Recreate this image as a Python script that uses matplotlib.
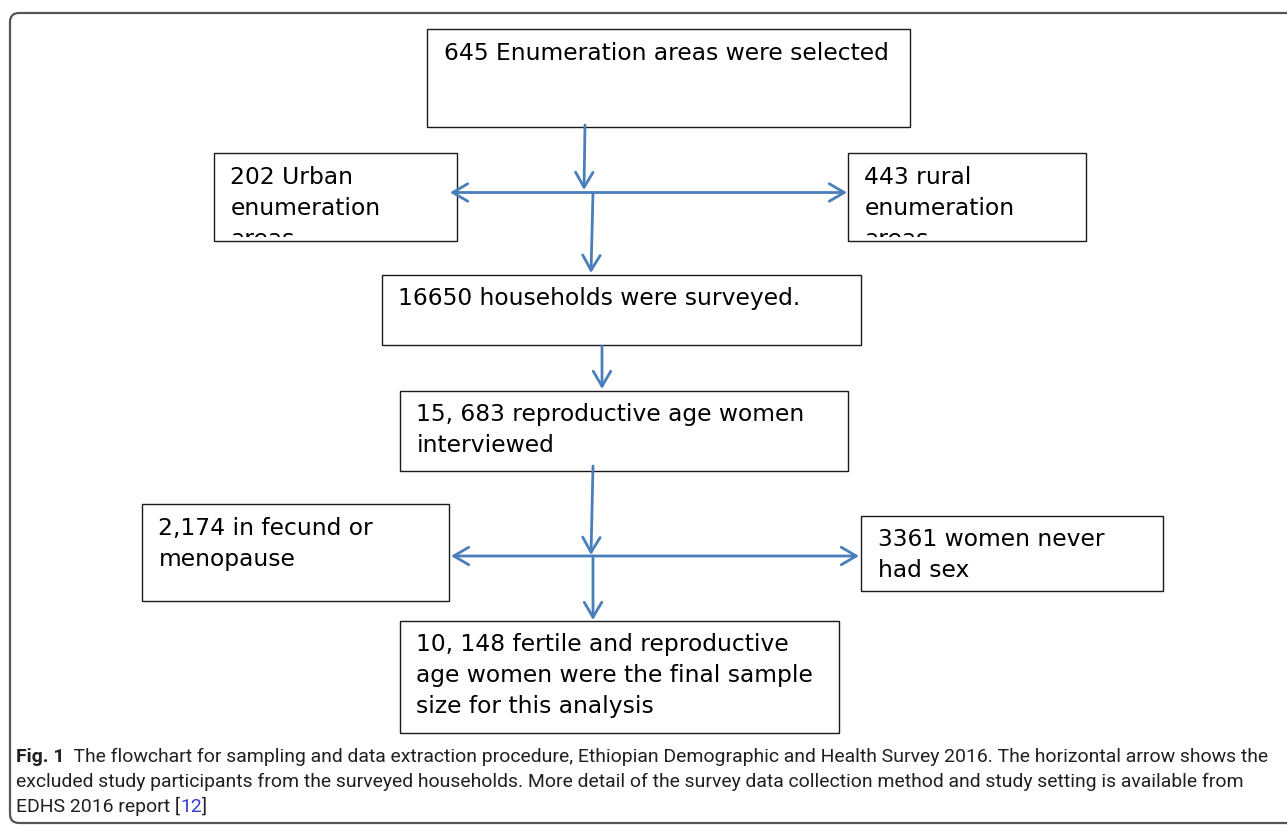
import matplotlib
matplotlib.use("Agg")
import matplotlib.pyplot as plt
from matplotlib.patches import Rectangle, FancyBboxPatch
from matplotlib.transforms import Bbox
from matplotlib import font_manager

# box texts (one string per line)
top_lines = ["645 Enumeration areas were selected"]
urban_lines = ["202 Urban", "enumeration", "areas"]
rural_lines = ["443 rural", "enumeration", "areas"]
household_lines = ["16650 households were surveyed."]
women_lines = ["15, 683 reproductive age women", "interviewed"]
infecund_lines = ["2,174 in fecund or", "menopause"]
nosex_lines = ["3361 women never", "had sex"]
final_lines = ["10, 148 fertile and reproductive",
               "age women were the final sample",
               "size for this analysis"]

caption_label = "Fig. 1"
caption_line1 = "  The flowchart for sampling and data extraction procedure, Ethiopian Demographic and Health Survey 2016. The horizontal arrow shows the"
caption_line2 = "excluded study participants from the surveyed households. More detail of the survey data collection method and study setting is available from"
caption_line3 = ["EDHS 2016 report [", "12", "]"]

W, H = 1287, 825
BLUE = "#4a7ebb"

fig = plt.figure(figsize=(W / 100, H / 100), dpi=100)
ax = fig.add_axes([0, 0, 1, 1])
ax.set_xlim(0, W)
ax.set_ylim(H, 0)
ax.axis("off")

# outer rounded frame
ax.add_patch(FancyBboxPatch((10, 13), 1300, 810,
                            boxstyle="round,pad=0,rounding_size=9",
                            fc="none", ec="#555555", lw=1.6))

# layout: (x0, y0, x1, y1, first baseline, lines)
boxes = [
    (427, 29, 910, 127, 59.5, top_lines),
    (214, 153, 457, 241, 184, urban_lines),
    (848, 153, 1086, 241, 184, rural_lines),
    (382, 275, 861, 345, 305, household_lines),
    (400, 391, 848, 471, 421, women_lines),
    (142, 504, 449, 601, 535, infecund_lines),
    (861, 516, 1163, 591, 546, nosex_lines),
    (400, 621, 839, 733, 651, final_lines),
]

for x0, y0, x1, y1, base, lines in boxes:
    ax.add_patch(Rectangle((x0, y0), x1 - x0, y1 - y0, fc="white",
                           ec="#1a1a1a", lw=1.0))
    # text overflowing the box's inner margin is cut off, as in the original
    (dx0, dy0), (dx1, dy1) = ax.transData.transform([(x0, y0), (x1, y1 - 4)])
    clip = Bbox.from_extents(min(dx0, dx1), min(dy0, dy1),
                             max(dx0, dx1), max(dy0, dy1))
    for i, line in enumerate(lines):
        t = ax.text(x0 + 16.5, base + i * 31, line, fontsize=16.85,
                    family="DejaVu Sans", va="baseline", ha="left",
                    color="black")
        t.set_clip_box(clip)
        t.set_clip_on(True)


def arrow(p0, p1, style="->"):
    ax.annotate("", xy=p1, xytext=p0,
                arrowprops=dict(arrowstyle=style + ",head_length=0.6,head_width=0.35",
                                color=BLUE, lw=2.0, shrinkA=0, shrinkB=0,
                                mutation_scale=18))


arrow((585, 125), (584, 190))
arrow((450, 192.5), (847, 192.5), "<->")
arrow((593, 192.5), (591, 273))
arrow((602, 346), (602, 389))
arrow((593, 466), (591, 555))
arrow((451, 556), (859, 556), "<->")
arrow((593, 556), (593, 620))

# caption
names = {f.name for f in font_manager.fontManager.ttflist}
cap_font = "Roboto" if "Roboto" in names else "Liberation Sans"
renderer = fig.canvas.get_renderer()
probe = ax.text(0, 0, caption_line2, fontsize=10, family=cap_font)
pw = probe.get_window_extent(renderer).width
probe.remove()
cap_size = 10 * (1243 - 16) / pw
CAP = "#231f20"


def run(x, y, s, **kw):
    t = ax.text(x, y, s, fontsize=cap_size, family=cap_font, va="baseline",
                ha="left", color=kw.pop("color", CAP), **kw)
    return x + t.get_window_extent(renderer).width


x = run(16, 762, caption_label, weight="bold")
run(x, 762, caption_line1)
run(16, 787, caption_line2)
x = run(16, 812, caption_line3[0])
x = run(x, 812, caption_line3[1], color="#2f3bd6")
run(x, 812, caption_line3[2])

fig.savefig("out.png", dpi=100)
